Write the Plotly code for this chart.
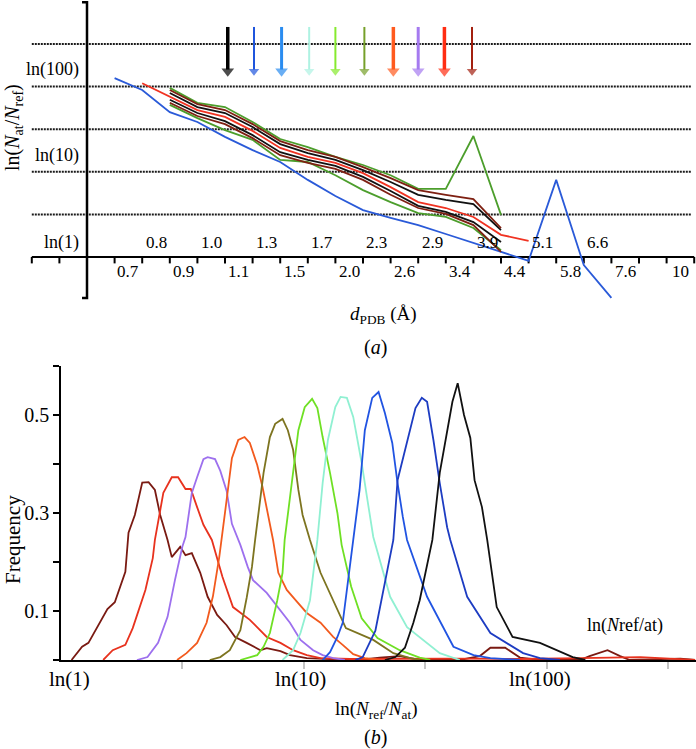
import math
import plotly.graph_objects as go

W, H = 696, 749
SERIF = "Liberation Serif, Times New Roman, serif"


def px_x(px):
    return px / W


def px_y(py):
    return 1 - py / H


# ---------------- panel (a) data ----------------
res_upper = ["0.8", "1.0", "1.3", "1.7", "2.3", "2.9", "3.9", "5.1", "6.6"]
res_upper_pos = [2.5, 4.5, 6.5, 8.5, 10.5, 12.5, 14.5, 16.5, 18.5]
res_lower = ["0.7", "0.9", "1.1", "1.5", "2.0", "2.6", "3.4", "4.4", "5.8", "7.6", "10"]
res_lower_pos = [1.5, 3.5, 5.5, 7.5, 9.5, 11.5, 13.5, 15.5, 17.5, 19.5, 21.5]
bin_ticks = list(range(-2, 23))
level_lines = [1, 2, 3, 4, 5]
level_labels = ["ln(100)", "ln(10)", "ln(1)"]
level_label_v = [4.39, 2.39, 0.33]

blue_x = list(range(1, 20))
blue_v = [4.20, 3.92, 3.40, 3.17, 2.82, 2.51, 2.23, 1.81, 1.43, 1.10, 0.92, 0.75,
          0.54, 0.33, 0.12, -0.09, 1.81, -0.19, -0.96]
bundle_x = list(range(3, 16))
green_up_v = [3.97, 3.62, 3.52, 3.17, 2.77, 2.58, 2.35, 2.16, 1.92, 1.60, 1.60, 2.84, 0.99]
green_lo_v = [3.57, 3.26, 2.98, 2.75, 2.28, 2.23, 1.92, 1.57, 1.29, 1.03, 0.94, 0.68, 0.16]
darkred_a_v = [3.92, 3.59, 3.45, 3.12, 2.72, 2.51, 2.35, 2.11, 1.85, 1.57, 1.46, 1.36, 0.68]
black_a_v = [3.85, 3.52, 3.38, 3.05, 2.65, 2.44, 2.28, 2.04, 1.76, 1.46, 1.34, 1.24, 0.63]
black_b_v = [3.69, 3.38, 3.19, 2.86, 2.46, 2.28, 2.14, 1.88, 1.55, 1.20, 1.06, 0.82, 0.35]
darkred_b_v = [3.62, 3.31, 3.12, 2.79, 2.39, 2.21, 2.07, 1.81, 1.46, 1.15, 1.01, 0.75, 0.12]
red_x = list(range(2, 17))
red_v = [4.08, 3.76, 3.45, 3.29, 2.96, 2.56, 2.35, 2.21, 1.97, 1.64, 1.29, 1.15, 0.94, 0.52, 0.38]

arrow_pos = [5.1, 6.05, 7.05, 8.05, 9.0, 10.05, 11.1, 12.0, 12.95, 13.95]
arrow_colors = ["#000000", "#1f55dd", "#2a8cf0", "#aef2e2", "#86ea2e",
                "#76a02a", "#ff5a1e", "#a57af0", "#ff2d12", "#a3200f"]
arrow_widths = [3.5, 2, 3, 2, 2, 2, 3.5, 3, 3.5, 2]
arrow_top, arrow_tip = 5.40, 4.25

# ---------------- panel (b) data ----------------
ln_ticks = [math.log(10) / 2, math.log(10), 3 * math.log(10) / 2, math.log(100), 5 * math.log(10) / 2]
ln_labels = ["ln(1)", "ln(10)", "ln(100)"]
freq_major = [0.1, 0.3, 0.5]
freq_minor = [0, 0.2, 0.4, 0.6]

dist_darkred = [(0.10, 0), (0.20, 0.027), (0.26, 0.035), (0.34, 0.065), (0.44, 0.104), (0.51, 0.118),
                (0.61, 0.180), (0.64, 0.26), (0.70, 0.296), (0.77, 0.362), (0.83, 0.363), (0.89, 0.347),
                (0.94, 0.296), (1.01, 0.245), (1.05, 0.210), (1.13, 0.231), (1.18, 0.214), (1.24, 0.218),
                (1.32, 0.178), (1.39, 0.129), (1.48, 0.092), (1.57, 0.071), (1.65, 0.047), (1.76, 0.035),
                (1.89, 0.020), (1.95, 0.024), (2.08, 0.018), (2.17, 0.010), (2.33, 0.004), (2.55, 0.002),
                (2.83, 0.0), (3.02, 0.005), (3.21, 0.008), (3.40, 0.0), (3.78, 0.0), (3.97, 0.008),
                (4.07, 0.025), (4.21, 0.025), (4.35, 0.005), (4.54, 0.0), (4.92, 0.0), (5.01, 0.008),
                (5.18, 0.020), (5.30, 0.008), (5.39, 0.0), (5.87, 0.003), (6.01, 0.0)]
dist_red = [(0.40, 0), (0.49, 0.020), (0.61, 0.031), (0.68, 0.065), (0.80, 0.143), (0.87, 0.208),
            (0.89, 0.245), (0.97, 0.341), (1.05, 0.373), (1.11, 0.373), (1.18, 0.349), (1.23, 0.349),
            (1.29, 0.312), (1.35, 0.276), (1.43, 0.245), (1.53, 0.170), (1.63, 0.108), (1.79, 0.082),
            (1.95, 0.047), (2.08, 0.035), (2.20, 0.020), (2.33, 0.010), (2.46, 0.004), (2.74, 0.002),
            (3.69, 0.003), (4.35, 0.002), (4.92, 0.004), (5.49, 0.006), (5.77, 0.003), (6.01, 0.0)]
dist_purple = [(0.72, 0), (0.82, 0.006), (0.92, 0.035), (1.01, 0.088), (1.08, 0.163), (1.15, 0.231),
               (1.18, 0.251), (1.24, 0.341), (1.29, 0.373), (1.35, 0.410), (1.39, 0.414), (1.46, 0.410),
               (1.51, 0.386), (1.57, 0.345), (1.62, 0.278), (1.70, 0.235), (1.77, 0.190), (1.82, 0.163),
               (1.95, 0.137), (2.08, 0.102), (2.17, 0.076), (2.27, 0.041), (2.39, 0.020), (2.48, 0.010),
               (2.58, 0.004), (2.69, 0)]
dist_orange = [(1.10, 0), (1.19, 0.014), (1.29, 0.035), (1.38, 0.076), (1.44, 0.13), (1.50, 0.21),
               (1.56, 0.31), (1.62, 0.412), (1.68, 0.449), (1.74, 0.455), (1.79, 0.443), (1.86, 0.398),
               (1.91, 0.353), (1.95, 0.312), (2.01, 0.245), (2.06, 0.178), (2.14, 0.143), (2.24, 0.118),
               (2.33, 0.096), (2.46, 0.076), (2.58, 0.047), (2.67, 0.031), (2.77, 0.012), (2.88, 0.004),
               (3.02, 0)]
dist_olive = [(1.41, 0), (1.51, 0.006), (1.60, 0.020), (1.70, 0.061), (1.76, 0.127), (1.81, 0.190),
              (1.84, 0.245), (1.89, 0.327), (1.92, 0.382), (1.98, 0.455), (2.03, 0.482), (2.10, 0.492),
              (2.15, 0.469), (2.20, 0.429), (2.25, 0.347), (2.29, 0.296), (2.36, 0.245), (2.46, 0.178),
              (2.58, 0.12), (2.70, 0.065), (2.96, 0.041), (3.15, 0.014), (3.31, 0.004), (3.40, 0)]
dist_lime = [(1.70, 0), (1.86, 0.010), (1.92, 0.027), (1.98, 0.055), (2.05, 0.122), (2.10, 0.178),
             (2.12, 0.245), (2.19, 0.367), (2.25, 0.469), (2.31, 0.516), (2.38, 0.533), (2.43, 0.514),
             (2.48, 0.455), (2.55, 0.382), (2.62, 0.300), (2.66, 0.235), (2.75, 0.15), (2.85, 0.085),
             (3.00, 0.045), (3.21, 0.020), (3.40, 0.005), (3.50, 0)]
dist_cyan = [(2.10, 0), (2.20, 0.020), (2.27, 0.055), (2.36, 0.122), (2.43, 0.245), (2.48, 0.361),
             (2.53, 0.449), (2.60, 0.516), (2.65, 0.537), (2.71, 0.535), (2.77, 0.496), (2.85, 0.402),
             (2.90, 0.333), (2.96, 0.251), (3.12, 0.129), (3.28, 0.067), (3.59, 0.014), (3.78, 0)]
dist_blue1 = [(2.48, 0), (2.55, 0.016), (2.62, 0.047), (2.67, 0.076), (2.77, 0.245), (2.83, 0.347),
              (2.88, 0.469), (2.95, 0.535), (3.01, 0.547), (3.07, 0.504), (3.14, 0.443), (3.19, 0.361),
              (3.24, 0.292), (3.28, 0.245), (3.47, 0.129), (3.72, 0.027), (3.91, 0.010), (4.07, 0.004),
              (4.35, 0)]
dist_blue2 = [(2.79, 0), (2.86, 0.006), (2.98, 0.06), (3.07, 0.16), (3.15, 0.245), (3.19, 0.367),
              (3.29, 0.455), (3.36, 0.514), (3.42, 0.535), (3.47, 0.527), (3.53, 0.449), (3.59, 0.361),
              (3.66, 0.271), (3.69, 0.245), (3.85, 0.129), (4.07, 0.055), (4.38, 0.014), (4.54, 0.004),
              (4.73, 0)]
dist_black = [(3.07, 0), (3.17, 0.006), (3.26, 0.025), (3.34, 0.076), (3.40, 0.122), (3.52, 0.245),
              (3.59, 0.382), (3.66, 0.469), (3.71, 0.527), (3.76, 0.565), (3.82, 0.500), (3.88, 0.453),
              (3.92, 0.367), (3.99, 0.312), (4.04, 0.245), (4.13, 0.108), (4.28, 0.047), (4.54, 0.035),
              (4.70, 0.020), (4.85, 0.006), (4.97, 0)]

fig = go.Figure()

# ---------- panel (a) ----------
for lvl in level_lines:
    fig.add_trace(go.Scatter(x=[-2, 21.9], y=[lvl, lvl], mode="lines",
                             line=dict(color="#1a1a1a", width=2, dash="2px,1px"),
                             xaxis="x", yaxis="y", hoverinfo="skip"))
fig.add_trace(go.Scatter(x=[-2, 22], y=[0, 0], mode="lines", line=dict(color="black", width=2),
                         xaxis="x", yaxis="y", hoverinfo="skip"))
tx, ty = [], []
for t in bin_ticks:
    tx += [t, t, None]
    ty += [0, -0.15, None]
fig.add_trace(go.Scatter(x=tx, y=ty, mode="lines", line=dict(color="black", width=2),
                         xaxis="x", yaxis="y", hoverinfo="skip"))
fig.add_trace(go.Scatter(x=[-0.18, 0, 0, -0.18], y=[5.98, 5.98, -0.96, -0.96], mode="lines",
                         line=dict(color="black", width=2.5), xaxis="x", yaxis="y", hoverinfo="skip"))

top_lines = [
    (blue_x, blue_v, "#2a5ad8"),
    (bundle_x, green_lo_v, "#4c9e2c"),
    (bundle_x, green_up_v, "#4c9e2c"),
    (bundle_x, darkred_b_v, "#7e2012"),
    (bundle_x, black_b_v, "#111111"),
    (red_x, red_v, "#f03322"),
    (bundle_x, black_a_v, "#111111"),
    (bundle_x, darkred_a_v, "#7e2012"),
]
for xs, vs, c in top_lines:
    fig.add_trace(go.Scatter(x=xs, y=vs, mode="lines", line=dict(color=c, width=1.8),
                             xaxis="x", yaxis="y", hoverinfo="skip"))

# arrows: shaft + triangular head
for pos, c, w in zip(arrow_pos, arrow_colors, arrow_widths):
    fig.add_trace(go.Scatter(x=[pos, pos], y=[arrow_top, arrow_tip + 0.15], mode="lines",
                             line=dict(color=c, width=w), xaxis="x", yaxis="y", hoverinfo="skip"))
fig.add_trace(go.Scatter(x=arrow_pos, y=[arrow_tip + 0.11] * len(arrow_pos), mode="markers",
                         marker=dict(symbol="triangle-down", size=[11 if w >= 3 else 9 for w in arrow_widths],
                                     color=arrow_colors, line=dict(width=0)),
                         xaxis="x", yaxis="y", hoverinfo="skip"))

annotations = []
for lab, pos in zip(res_upper, res_upper_pos):
    annotations.append(dict(x=pos, y=0.35, xref="x", yref="y", text=lab, showarrow=False,
                            xanchor="center", yanchor="middle",
                            font=dict(family=SERIF, size=17, color="black")))
for lab, pos in zip(res_lower, res_lower_pos):
    annotations.append(dict(x=pos, y=-0.34, xref="x", yref="y", text=lab, showarrow=False,
                            xanchor="center", yanchor="middle",
                            font=dict(family=SERIF, size=17, color="black")))
for lab, v in zip(level_labels, level_label_v):
    annotations.append(dict(x=-0.2, y=v, xref="x", yref="y", text=lab, showarrow=False,
                            xanchor="right", yanchor="middle",
                            font=dict(family=SERIF, size=18, color="black")))


def ptext(x, y, text, size, angle=0):
    return dict(x=px_x(x), y=px_y(y), xref="paper", yref="paper", text=text, showarrow=False,
                xanchor="center", yanchor="middle", textangle=angle,
                font=dict(family=SERIF, size=size, color="black"))


annotations += [
    ptext(13, 128, "ln(<i>N</i><sub>at</sub>/<i>N</i><sub>ref</sub>)", 20, -90),
    ptext(383, 315, "<i>d</i><sub>PDB</sub> (Å)", 19),
    ptext(375, 347, "(<i>a</i>)", 20),
]

# ---------- panel (b) ----------
dists = [
    (dist_darkred, "#7a1a12"), (dist_red, "#e8321e"), (dist_purple, "#9d70ee"),
    (dist_orange, "#f25a1e"), (dist_olive, "#7d7420"), (dist_lime, "#6fe024"),
    (dist_cyan, "#90f0d2"), (dist_blue1, "#2154e2"), (dist_blue2, "#1d3cc2"),
    (dist_black, "#111111"),
]
for pts, c in dists:
    fig.add_trace(go.Scatter(x=[p[0] for p in pts], y=[p[1] for p in pts], mode="lines",
                             line=dict(color=c, width=1.8), xaxis="x2", yaxis="y2", hoverinfo="skip"))

ln_label_px = [69, 300, 540]
for lab, lx in zip(ln_labels, ln_label_px):
    annotations.append(ptext(lx, 679, lab, 21))
annotations += [
    ptext(13, 540, "Frequency", 21, -90),
    ptext(376, 710, "ln(<i>N</i><sub>ref</sub>/<i>N</i><sub>at</sub>)", 19),
    ptext(375, 737, "(<i>b</i>)", 20),
    ptext(625, 625, "ln(<i>N</i>ref/at)", 18),
]

fig.update_layout(
    width=W, height=H, margin=dict(l=0, r=0, t=0, b=0),
    paper_bgcolor="white", plot_bgcolor="white", showlegend=False,
    xaxis=dict(domain=[0, 1], range=[-87 / 27.6, (W - 87) / 27.6], visible=False),
    yaxis=dict(domain=[1 - 300 / H, 1], range=[(257 - 300) / 42.6, 257 / 42.6], visible=False),
    xaxis2=dict(domain=[61 / W, 1], range=[0, (W - 61) / 105.5], anchor="y2",
                showline=True, linecolor="black", linewidth=1.5, showgrid=False, zeroline=False,
                ticks="", showticklabels=False,
                minor=dict(tickmode="array", tickvals=ln_ticks, ticks="outside", ticklen=7,
                           tickwidth=1.5, tickcolor="#c4c4c4", showgrid=False)),
    yaxis2=dict(domain=[1 - 660 / H, 1 - 366 / H], range=[0, 0.6], anchor="x2",
                showline=True, linecolor="black", linewidth=1.5, showgrid=False, zeroline=False,
                ticks="outside", tickmode="array", tickvals=freq_major, ticklen=6, tickwidth=1.5,
                tickcolor="black", tickfont=dict(family=SERIF, size=20, color="black"),
                minor=dict(tickmode="array", tickvals=freq_minor, ticks="outside", ticklen=6,
                           tickwidth=1.5, tickcolor="black", showgrid=False)),
    annotations=annotations,
)

fig.write_html("out.html", config={"displayModeBar": False},
               post_script="document.body.style.margin='0px';")
